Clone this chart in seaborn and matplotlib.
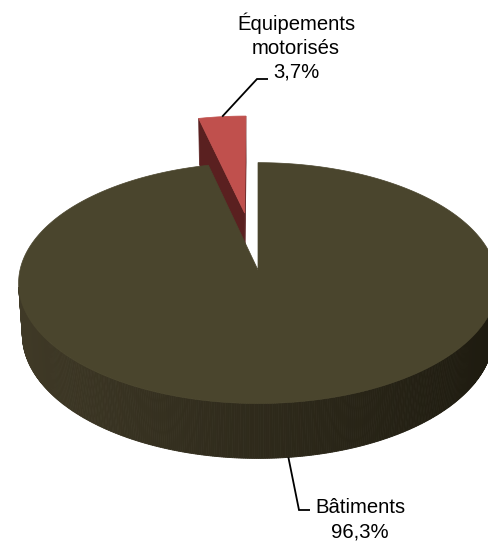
import numpy as np
import matplotlib
matplotlib.use("Agg")
import matplotlib.pyplot as plt
from matplotlib.patches import Polygon
import seaborn as sns

# --- data -------------------------------------------------------------
categories = ["Bâtiments", "Équipements\nmotorisés"]
shares = [96.3, 3.7]
value_labels = ["96,3%", "3,7%"]

# --- style ------------------------------------------------------------
sns.set_theme(style="white")
plt.rcParams["font.family"] = ["Liberation Sans", "DejaVu Sans"]

top_colors = ["#4a452d", "#c0504d"]
side_light = ["#403a27", "#5a2020"]
side_dark = ["#1d1a0f", "#5a2020"]
explode = [0.0, 121.0]            # pull-out distance of each slice
label_elbow = [(299, 510), (257, 79)]
label_end = [(310, 510), (268, 79)]
label_text_xy = [(360, 513), (296, 30)]
LINE_STEP = 24
FONT_PT = 14.6

W, H = 488, 543
fig = plt.figure(figsize=(W / 100, H / 100), dpi=100)
ax = fig.add_axes([0, 0, 1, 1])
ax.set_xlim(0, W)
ax.set_ylim(H, 0)
ax.axis("off")

# --- 3D view ------------------------------------------------------------
CX, CY = 258, 270
R, DEPTH = 238, 60
ELEV = np.radians(30)
DIST = 1900.0
CAM = np.array([0.0, -DIST * np.cos(ELEV), DIST * np.sin(ELEV)])


def project(X, Y, Z):
    v = Y * np.sin(ELEV) + Z * np.cos(ELEV)
    w = Y * np.cos(ELEV) - Z * np.sin(ELEV)
    k = DIST / (DIST + w)
    return CX + k * X, CY - k * v


def rgb(h):
    return np.array(matplotlib.colors.to_rgb(h))


# slice angles: clockwise from 12 o'clock
fracs = np.array(shares) / np.sum(shares)
ends = 90 - 360 * np.concatenate([[0], np.cumsum(fracs)[:-1]])
starts = ends - 360 * fracs

slices = []
for i in range(len(shares)):
    a0, a1 = np.radians(starts[i]), np.radians(ends[i])
    mid = 0.5 * (a0 + a1)
    ox, oy = explode[i] * np.cos(mid), explode[i] * np.sin(mid)
    slices.append(dict(i=i, a0=a0, a1=a1, mid=mid, ox=ox, oy=oy,
                       depth=oy + 0.5 * R * np.sin(mid) * (1 if fracs[i] < 0.5 else 0.1)))

# farthest slices first
slices.sort(key=lambda s: -s["depth"])

for s in slices:
    i, a0, a1, ox, oy = s["i"], s["a0"], s["a1"], s["ox"], s["oy"]
    ts = np.linspace(a0, a1, 720)
    # radial faces
    for ang, nrm in ((a0, a0 - np.pi / 2), (a1, a1 + np.pi / 2)):
        pm = np.array([ox + 0.5 * R * np.cos(ang), oy + 0.5 * R * np.sin(ang), -DEPTH / 2])
        n = np.array([np.cos(nrm), np.sin(nrm), 0.0])
        if np.dot(n, CAM - pm) > 1e-6:
            pts = [project(ox, oy, 0), project(ox + R * np.cos(ang), oy + R * np.sin(ang), 0),
                   project(ox + R * np.cos(ang), oy + R * np.sin(ang), -DEPTH), project(ox, oy, -DEPTH)]
            ax.add_patch(Polygon(pts, closed=True, facecolor=side_light[i],
                                 edgecolor=side_light[i], lw=0.5))
    # outer rim
    cl, cd = rgb(side_light[i]), rgb(side_dark[i])
    for t0, t1 in zip(ts[:-1], ts[1:]):
        tm = 0.5 * (t0 + t1)
        pm = np.array([ox + R * np.cos(tm), oy + R * np.sin(tm), -DEPTH / 2])
        n = np.array([np.cos(tm), np.sin(tm), 0.0])
        if np.dot(n, CAM - pm) <= 0:
            continue
        f = (1 - np.cos(tm)) / 2
        col = cd + (cl - cd) * f
        pts = [project(ox + R * np.cos(t0), oy + R * np.sin(t0), 0),
               project(ox + R * np.cos(t1), oy + R * np.sin(t1), 0),
               project(ox + R * np.cos(t1), oy + R * np.sin(t1), -DEPTH),
               project(ox + R * np.cos(t0), oy + R * np.sin(t0), -DEPTH)]
        ax.add_patch(Polygon(pts, closed=True, facecolor=col, edgecolor=col, lw=0.6))
    # top face
    top = [project(ox, oy, 0)] + [project(ox + R * np.cos(t), oy + R * np.sin(t), 0) for t in ts]
    ax.add_patch(Polygon(top, closed=True, facecolor=top_colors[i],
                         edgecolor=top_colors[i], lw=0.5))

# --- labels with leader lines -----------------------------------------------
for s in sorted(slices, key=lambda s: s["i"]):
    i, mid, ox, oy = s["i"], s["mid"], s["ox"], s["oy"]
    px, py = ox + R * np.cos(mid), oy + R * np.sin(mid)
    if np.sin(mid) < 0:
        ax_, ay_ = project(px, py, -DEPTH)
    else:
        ax_, ay_ = project(px, py, 0)
    ex, ey = label_elbow[i]
    fx, fy = label_end[i]
    ax.plot([ax_, ex, fx], [ay_, ey, fy], color="black", lw=1.3,
            solid_capstyle="butt", solid_joinstyle="miter")
    lines = categories[i].split("\n") + [value_labels[i]]
    tx, ty = label_text_xy[i]
    for k, line in enumerate(lines):
        ax.text(tx, ty + k * LINE_STEP, line, ha="center", va="baseline",
                fontsize=FONT_PT, color="black")

fig.savefig("out.png", dpi=100, facecolor="white")
